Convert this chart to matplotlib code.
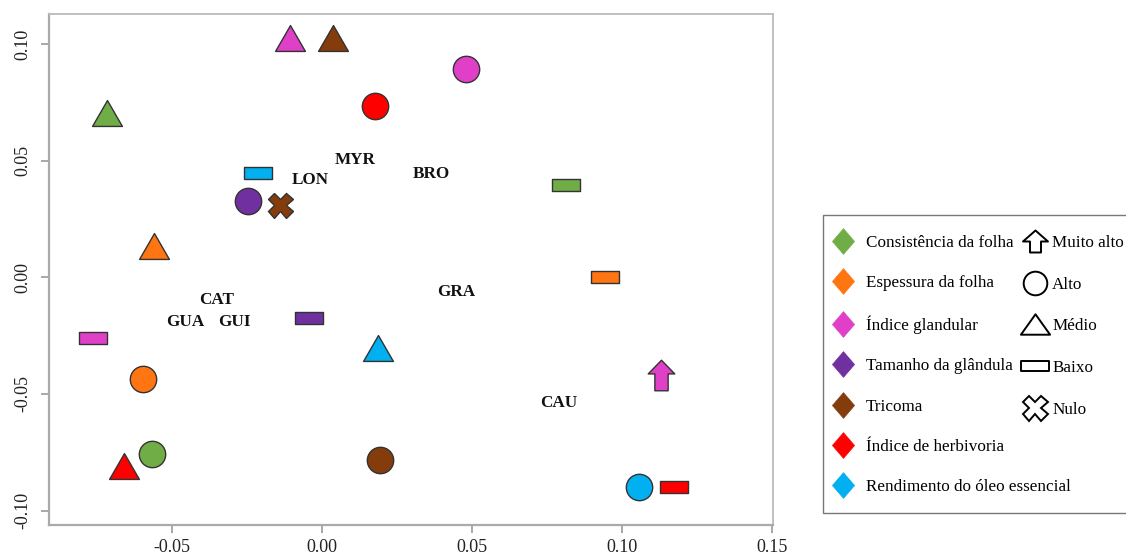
import matplotlib
matplotlib.use("Agg")
import matplotlib.pyplot as plt
from matplotlib.path import Path
from matplotlib.lines import Line2D
from matplotlib.patches import Rectangle

# ---------------- data ----------------
traits = ["Consistência da folha", "Espessura da folha", "Índice glandular",
          "Tamanho da glândula", "Tricoma", "Índice de herbivoria",
          "Rendimento do óleo essencial"]
trait_colors = ["#70AD47", "#FF7511", "#E040C8", "#7030A0", "#843C0C",
                "#FF0000", "#00B0F0"]
levels = ["Muito alto", "Alto", "Médio", "Baixo", "Nulo"]

pt_x = [-0.0716, -0.0106, 0.0038, 0.0178, 0.0481, -0.0212, -0.0246, -0.0139,
        -0.0559, 0.0814, 0.0944, -0.0042, -0.0762, 0.0188, -0.0596, 0.1131,
        -0.0566, -0.0659, 0.0194, 0.1058, 0.1174]
pt_y = [0.0704, 0.1026, 0.1026, 0.0734, 0.0893, 0.0447, 0.0326, 0.0310,
        0.0134, 0.0396, 0.0001, -0.0176, -0.0260, -0.0304, -0.0437, -0.0420,
        -0.0758, -0.0810, -0.0783, -0.0898, -0.0898]
pt_trait = [0, 2, 4, 5, 2, 6, 3, 4,
            1, 0, 1, 3, 2, 6, 1, 2,
            0, 5, 4, 6, 5]
pt_level = ["Médio", "Médio", "Médio", "Alto", "Alto", "Baixo", "Alto", "Nulo",
            "Médio", "Baixo", "Baixo", "Baixo", "Baixo", "Médio", "Alto", "Muito alto",
            "Alto", "Médio", "Alto", "Alto", "Baixo"]

site_names = ["MYR", "LON", "BRO", "CAT", "GUA", "GUI", "GRA", "CAU"]
site_x = [0.0111, -0.0039, 0.0364, -0.0352, -0.0456, -0.0292, 0.0448, 0.0791]
site_y = [0.0503, 0.0417, 0.0443, -0.0098, -0.0192, -0.0192, -0.0063, -0.0539]

x_ticks = [-0.05, 0.00, 0.05, 0.10, 0.15]
y_ticks = [-0.10, -0.05, 0.00, 0.05, 0.10]

# ---------------- markers ----------------
def closed(verts):
    return Path(list(verts) + [verts[0]],
                [Path.MOVETO] + [Path.LINETO] * (len(verts) - 1) + [Path.CLOSEPOLY])

tri = closed([(0, 0.5), (-0.577, -0.5), (0.577, -0.5)])
tri_leg = closed([(0, 0.35), (-0.5, -0.35), (0.5, -0.35)])
rect = closed([(-1, -0.46), (1, -0.46), (1, 0.46), (-1, 0.46)])
rect_leg = closed([(-1, -0.4), (1, -0.4), (1, 0.4), (-1, 0.4)])
arrow = closed([(0, 0.575), (0.5, 0.06), (0.25, 0.06), (0.25, -0.575),
                (-0.25, -0.575), (-0.25, 0.06), (-0.5, 0.06)])
arrow_leg = closed([(0, 0.44), (0.5, 0.0), (0.22, 0.0), (0.22, -0.44),
                    (-0.22, -0.44), (-0.22, 0.0), (-0.5, 0.0)])
diamond = closed([(0, 0.5), (0.43, 0), (0, -0.5), (-0.43, 0)])

level_marker = {"Muito alto": arrow, "Alto": "o", "Médio": tri, "Baixo": rect, "Nulo": "X"}
level_size = {"Muito alto": 22, "Alto": 19, "Médio": 21.5, "Baixo": 20, "Nulo": 18}
leg_marker = {"Muito alto": arrow_leg, "Alto": "o", "Médio": tri_leg, "Baixo": rect_leg, "Nulo": "X"}
leg_size = {"Muito alto": 18, "Alto": 17, "Médio": 21, "Baixo": 19.5, "Nulo": 18}

# ---------------- figure ----------------
fig = plt.figure(figsize=(11.26, 5.6), dpi=100)
ax = fig.add_axes([0.0431, 0.0625, 0.6434, 0.9125])

for x, y, t, lv in zip(pt_x, pt_y, pt_trait, pt_level):
    ax.plot([x], [y], linestyle="none", marker=level_marker[lv],
            markersize=level_size[lv], markerfacecolor=trait_colors[t],
            markeredgecolor="#333333", markeredgewidth=1.0, zorder=3)

for name, x, y in zip(site_names, site_x, site_y):
    ax.text(x, y, name, ha="center", va="center", fontsize=12.3,
            fontweight="bold", family="Liberation Serif", color="#111111")

ax.set_xlim(-0.0911, 0.1504)
ax.set_ylim(-0.1062, 0.1129)
ax.set_xticks(x_ticks)
ax.set_xticklabels([f"{v:.2f}" for v in x_ticks])
ax.set_yticks(y_ticks)
ax.set_yticklabels([f"{v:.2f}" for v in y_ticks], rotation=90, va="center")
for lab in ax.get_xticklabels() + ax.get_yticklabels():
    lab.set_family("Liberation Serif")
    lab.set_fontsize(13)
    lab.set_color("#222222")
ax.tick_params(axis="both", length=6, width=1.2, color="#999999")
ax.tick_params(axis="x", pad=4)
ax.tick_params(axis="y", pad=6)

for s in ["top", "right"]:
    ax.spines[s].set_color("#bbbbbb")
    ax.spines[s].set_linewidth(1.3)
for s in ["left", "bottom"]:
    ax.spines[s].set_color("#aaaaaa")
    ax.spines[s].set_linewidth(1.6)

# ---------------- legend ----------------
W, H = 1126.0, 560.0
frame = Rectangle((823 / W, 1 - 513 / H), (1127 - 823) / W, (513 - 215) / H,
                  transform=fig.transFigure, fill=False, edgecolor="#777777",
                  linewidth=1.0, clip_on=False)
fig.add_artist(frame)

h1 = [Line2D([], [], linestyle="none", marker=diamond, markersize=18.5,
             markerfacecolor=c, markeredgecolor=c, markeredgewidth=0.5, label=n)
      for n, c in zip(traits, trait_colors)]
leg1 = fig.legend(handles=h1, loc="upper left",
                  bbox_to_anchor=(834.5 / W, 1 - 235 / H),
                  prop={"family": "Liberation Serif", "size": 12.3},
                  frameon=False, labelspacing=1.42, handlelength=1.0,
                  handletextpad=0.85, borderpad=0, borderaxespad=0)

h2 = [Line2D([], [], linestyle="none", marker=leg_marker[lv], markersize=leg_size[lv],
             markerfacecolor="white", markeredgecolor="black",
             markeredgewidth=1.4, label=lv) for lv in levels]
leg2 = fig.legend(handles=h2, loc="upper left",
                  bbox_to_anchor=(1026.5 / W, 1 - 235 / H),
                  prop={"family": "Liberation Serif", "size": 12.3},
                  frameon=False, labelspacing=1.5, handlelength=1.0,
                  handletextpad=0.5, borderpad=0, borderaxespad=0)

fig.savefig("out.png", dpi=100)
